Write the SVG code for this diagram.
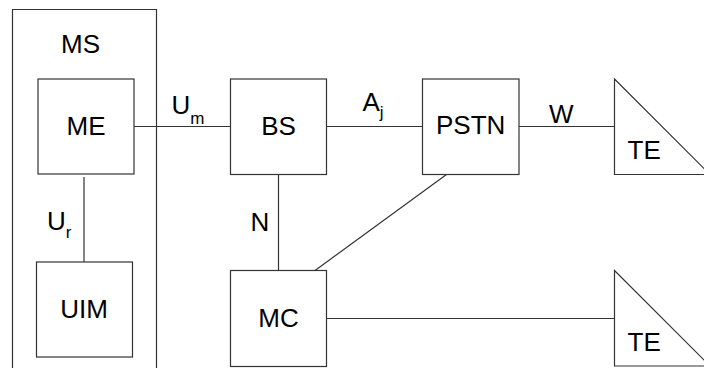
<svg xmlns="http://www.w3.org/2000/svg" width="704" height="368" viewBox="0 0 704 368">
<style>
.b{fill:#fff;stroke:#333;stroke-width:1.2}
.l{fill:none;stroke:#333;stroke-width:1.2}
text{font-family:"Liberation Sans",Arial,sans-serif;font-size:26px;fill:#000}
.c{text-anchor:middle}
.s{font-size:17px}
</style>
<rect width="704" height="368" fill="#fff"/>
<g id="connectors">
<line class="l" x1="134" y1="126.5" x2="230.5" y2="126.5"/>
<line class="l" x1="84" y1="177" x2="84" y2="262"/>
<line class="l" x1="326.5" y1="126.5" x2="422.5" y2="126.5"/>
<line class="l" x1="519" y1="126.5" x2="614.5" y2="126.5"/>
<line class="l" x1="278.5" y1="174.5" x2="278.5" y2="270.5"/>
<line class="l" x1="446.5" y1="174.5" x2="315" y2="270.5"/>
<line class="l" x1="326.5" y1="318.5" x2="614.5" y2="318.5"/>
</g>
<g id="MS">
<polyline class="l" points="12.5,370 12.5,9.5 156.5,9.5 156.5,370"/>
<text class="c" x="80.5" y="52.5">MS</text>
</g>
<g id="ME">
<rect class="b" x="38" y="79" width="96" height="95"/>
<text class="c" x="86" y="135">ME</text>
</g>
<g id="UIM">
<rect class="b" x="36.5" y="262" width="96" height="95"/>
<text class="c" x="84" y="318">UIM</text>
</g>
<g id="BS">
<rect class="b" x="230.5" y="79" width="96" height="95.5"/>
<text class="c" x="278.5" y="135">BS</text>
</g>
<g id="PSTN">
<rect class="b" x="422.5" y="79" width="96.5" height="95.5"/>
<text class="c" x="470.7" y="134">PSTN</text>
</g>
<g id="MC">
<rect class="b" x="230.5" y="270.5" width="96" height="96"/>
<text class="c" x="278.5" y="326.5">MC</text>
</g>
<g id="TE1">
<polygon class="b" points="614.5,79 614.5,174.5 710,174.5"/>
<text x="627.5" y="158.5">TE</text>
</g>
<g id="TE2">
<polygon class="b" points="614.5,270.5 614.5,366 710,366"/>
<text x="627.5" y="350.5">TE</text>
</g>
<g id="labels">
<text x="171.5" y="113.5">U<tspan class="s" dy="10">m</tspan></text>
<text x="47" y="230">U<tspan class="s" dy="8">r</tspan></text>
<text x="362.5" y="110.5">A<tspan class="s" dy="7">j</tspan></text>
<text class="c" x="561.3" y="123.3">W</text>
<text class="c" x="260" y="230.7">N</text>
</g>
</svg>
